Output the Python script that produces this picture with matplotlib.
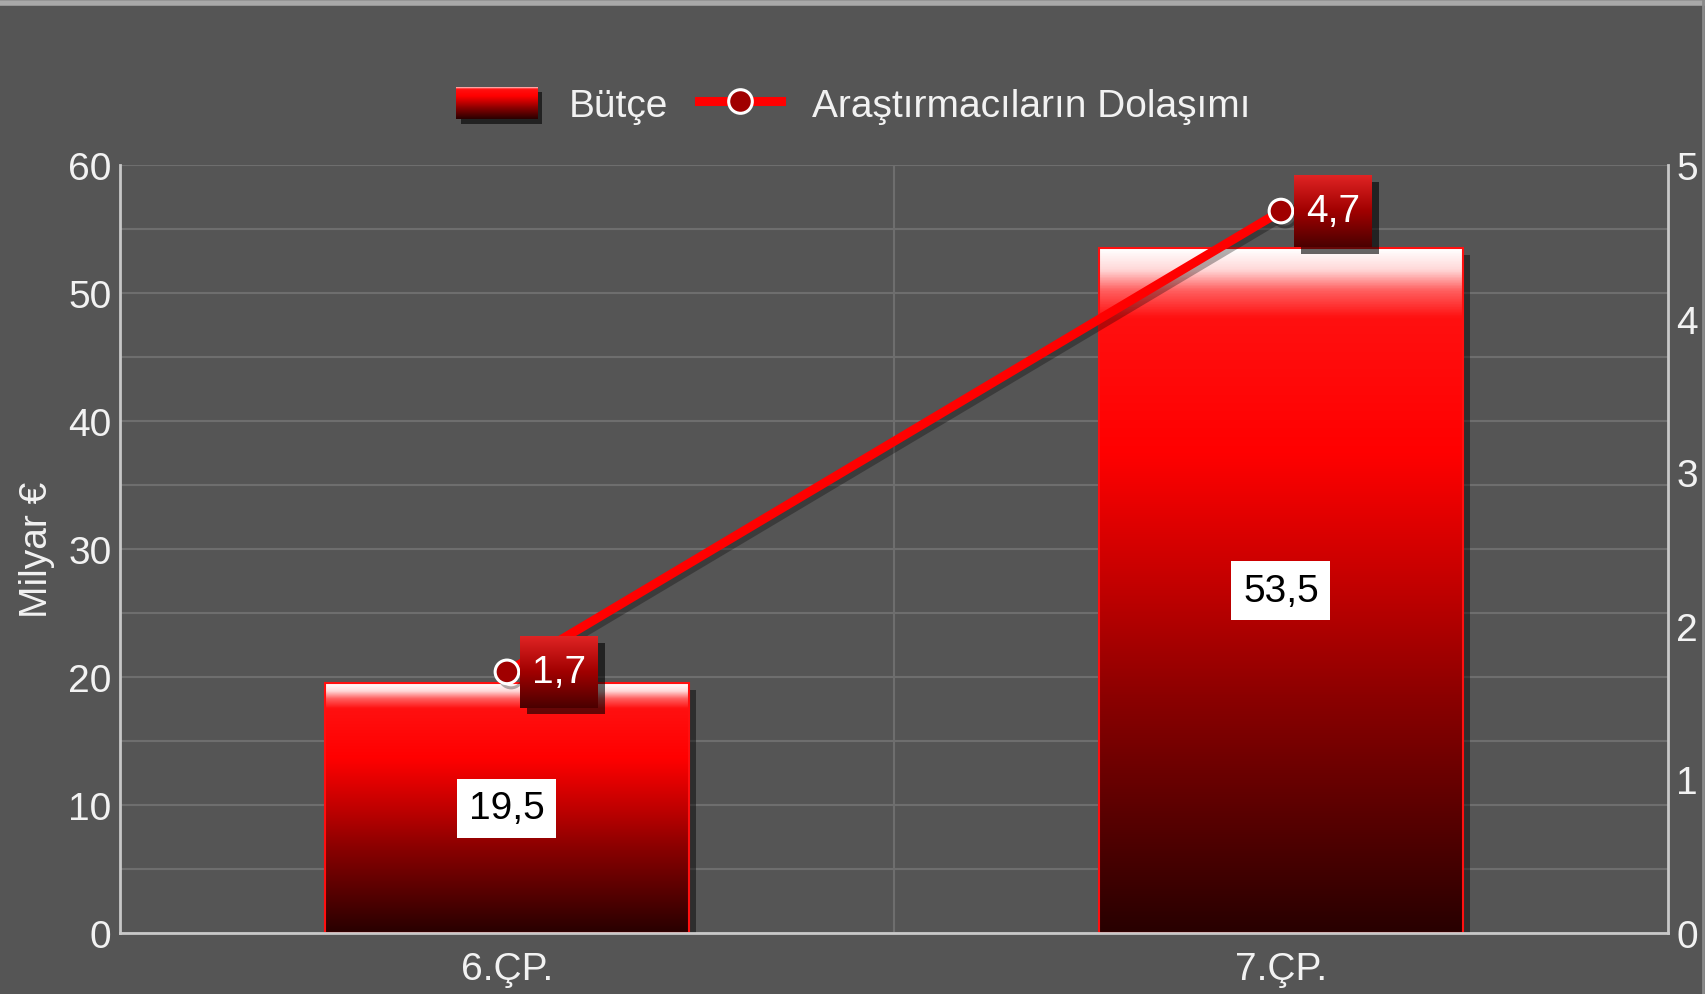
import numpy as np
import matplotlib
matplotlib.use("Agg")
import matplotlib.pyplot as plt
import matplotlib.transforms as mtransforms
from matplotlib.colors import LinearSegmentedColormap
from matplotlib.patches import Rectangle, Patch
from matplotlib.lines import Line2D
import matplotlib.patheffects as pe

# data
categories = ["6.ÇP.", "7.ÇP."]
budget = [19.5, 53.5]
mobility = [1.7, 4.7]
budget_labels = ["19,5", "53,5"]
mobility_labels = ["1,7", "4,7"]
left_ticks = [0, 10, 20, 30, 40, 50, 60]
right_ticks = [0, 1, 2, 3, 4, 5]

bg = "#555555"
txt = "#f2f2f2"
plt.rcParams['font.family'] = ['Liberation Sans', 'DejaVu Sans']
plt.rcParams['font.size'] = 28

bar_cmap = LinearSegmentedColormap.from_list("bar", [
    (0.0, "#280000"), (0.34, "#8a0000"), (0.5, "#c00000"), (0.7, "#ff0000"),
    (0.9, "#ff1010"), (0.94, "#ff6060"), (0.97, "#ffd8d8"), (1.0, "#ffffff")])
box_cmap = LinearSegmentedColormap.from_list("box", [
    (0.0, "#4a0000"), (0.5, "#a00000"), (1.0, "#e02424")])
grad = np.linspace(0, 1, 256).reshape(-1, 1)

fig = plt.figure(figsize=(17.06, 9.95), dpi=100, facecolor=bg)
ax = fig.add_axes([0.0703, 0.0613, 0.9074, 0.7719])
ax.set_facecolor(bg)
ax2 = ax.twinx()

x = np.arange(len(categories))
bars = ax.bar(x, budget, width=0.47, facecolor="none", edgecolor="#ff1010",
              linewidth=1.5, zorder=4)

shadow_off = mtransforms.ScaledTranslation(5 / 72, -5 / 72, fig.dpi_scale_trans)
for b in bars:
    x0, y0, w, h = b.get_x(), b.get_y(), b.get_width(), b.get_height()
    ax.add_patch(Rectangle((x0, y0), w, h, facecolor="black", alpha=0.45,
                           transform=ax.transData + shadow_off, zorder=2,
                           edgecolor="none"))
    ax.imshow(grad, extent=[x0, x0 + w, y0, y0 + h], origin="lower",
              cmap=bar_cmap, aspect="auto", zorder=3)

for i, (v, lab) in enumerate(zip(budget, budget_labels)):
    ax.text(x[i], v / 2, lab, ha="center", va="center", color="black",
            zorder=6, bbox=dict(boxstyle="square,pad=0.3", fc="white", ec="none"))

ax.set_xlim(-0.5, 1.5)
ax.set_ylim(0, 60)
ax.set_yticks(left_ticks)
ax.set_yticks(np.arange(0, 61, 5), minor=True)
ax.set_xticks(x)
ax.set_xticklabels(categories)
ax.set_xticks([0.5], minor=True)
ax.grid(axis="y", which="both", color="#6e6e6e", linewidth=1.5)
ax.grid(axis="x", which="minor", color="#6e6e6e", linewidth=1.5)
ax.set_axisbelow(True)
ax.tick_params(which="both", length=0, colors=txt)
ax.tick_params(axis="y", pad=6)
ax.tick_params(axis="x", pad=13)
ax.set_ylabel("Milyar €", color=txt)
ax.yaxis.set_label_coords(-0.042, 0.5)

# line series on right axis
ax2.plot(x, mobility, color="#ff0000", linewidth=6.5, marker="o", markersize=17,
         markerfacecolor="#a00000", markeredgecolor="white", markeredgewidth=2.2,
         zorder=3, path_effects=[pe.SimpleLineShadow(offset=(3, -3), alpha=0.3), pe.Normal()])
ax2.set_ylim(0, 5)
ax2.set_yticks(right_ticks)
ax2.tick_params(length=0, colors=txt, pad=6)

mob_texts = []
for i, (v, lab) in enumerate(zip(mobility, mobility_labels)):
    t = ax2.annotate(lab, xy=(x[i], v), xytext=(18, 0), textcoords="offset points",
                     ha="left", va="center", color="white", zorder=7,
                     bbox=dict(boxstyle="square,pad=0.3", fc="none", ec="none"))
    mob_texts.append(t)

for a in (ax, ax2):
    for s in a.spines.values():
        s.set_visible(False)
for s in ("left", "bottom", "right"):
    ax2.spines[s].set_visible(True)
    ax2.spines[s].set_color("#c8c8c8")
    ax2.spines[s].set_linewidth(2)

# legend
handles = [Patch(facecolor="none", edgecolor="none"),
           Line2D([], [], color="#ff0000", linewidth=6.5, marker="o", markersize=17,
                  markerfacecolor="#a00000", markeredgecolor="white", markeredgewidth=2.2)]
leg = fig.legend(handles, ["Bütçe", "Araştırmacıların Dolaşımı"], loc="center",
                 bbox_to_anchor=(0.5, 0.893), ncol=2, frameon=False, labelcolor=txt,
                 handlelength=2.1, handleheight=0.9, handletextpad=0.8, columnspacing=0.8)

fig.canvas.draw()

# gradient fill for the line value boxes
inv = ax2.transData.inverted()
for t in mob_texts:
    bb = t.get_bbox_patch().get_window_extent()
    (bx0, by0), (bx1, by1) = inv.transform([[bb.x0, bb.y0 - 6], [bb.x1, bb.y1 + 6]])
    ax2.add_patch(Rectangle((bx0, by0), bx1 - bx0, by1 - by0, facecolor="black",
                            alpha=0.6, edgecolor="none", zorder=5,
                            transform=ax2.transData + shadow_off))
    ax2.imshow(grad, extent=[bx0, bx1, by0, by1], origin="lower", cmap=box_cmap,
               aspect="auto", zorder=6)
ax.set_xlim(-0.5, 1.5)
ax2.set_ylim(0, 5)

# gradient swatch for the bar legend entry
hb = leg.legend_handles[0].get_window_extent()
W, H = fig.bbox.width, fig.bbox.height
sh = fig.add_axes([(hb.x0 + 5) / W, (hb.y0 - 5) / H, hb.width / W, hb.height / H])
sh.axis("off")
sh.add_patch(Rectangle((0, 0), 1, 1, facecolor="black", alpha=0.6,
                       transform=sh.transAxes))
sw = fig.add_axes([hb.x0 / W, hb.y0 / H, hb.width / W, hb.height / H])
sw.imshow(grad, origin="lower", cmap=bar_cmap, aspect="auto")
sw.axis("off")

# frame edges
fig.add_artist(Line2D([0, 1], [0.996, 0.996], transform=fig.transFigure,
                      color="#a8a8a8", linewidth=4))
fig.add_artist(Line2D([0.998, 0.998], [0, 1], transform=fig.transFigure,
                      color="#8a8a8a", linewidth=2))

fig.savefig("out.png", dpi=100, facecolor=bg)
